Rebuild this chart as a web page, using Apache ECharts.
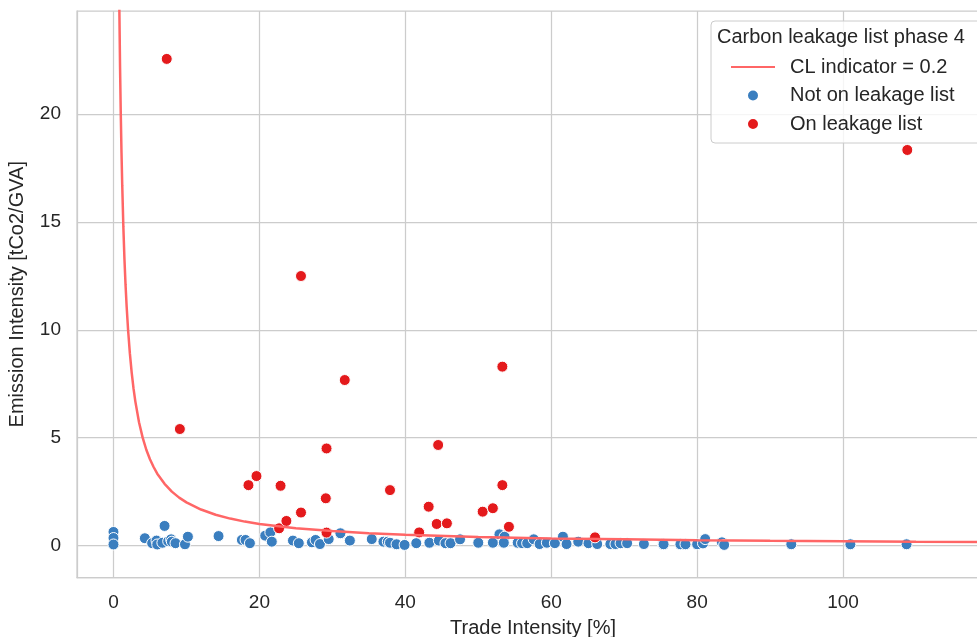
<!DOCTYPE html>
<html><head><meta charset="utf-8">
<script src="https://cdn.jsdelivr.net/npm/echarts@6/dist/echarts.min.js"></script>
<style>html,body{margin:0;padding:0;overflow:hidden;background:#fff}#c{width:995px;height:637px}</style>
</head><body><div id="c"></div>
<script>
// ---- data ----
const xTicks = [0, 20, 40, 60, 80, 100];
const yTicks = [0, 5, 10, 15, 20];

// CL indicator = 0.2 iso-line
const curveX = [0.6, 0.7, 0.8, 0.9, 1, 1.1, 1.2, 1.35, 1.5, 1.65, 1.8, 2, 2.25, 2.5, 2.75, 3, 3.5, 4, 4.5, 5, 5.5, 6, 7, 8, 9, 10, 12, 14, 16, 18, 20, 25, 30, 35, 40, 50, 60, 70, 80, 90, 100, 110, 120];
const curveY = [33.3, 28.6, 25, 22.2, 20, 18.2, 16.7, 14.8, 13.3, 12.1, 11.1, 10, 8.89, 8, 7.27, 6.67, 5.71, 5, 4.44, 4, 3.64, 3.33, 2.86, 2.5, 2.22, 2, 1.67, 1.43, 1.25, 1.11, 1, 0.8, 0.67, 0.57, 0.5, 0.4, 0.33, 0.29, 0.25, 0.22, 0.2, 0.18, 0.167];

// Not on leakage list
const notListX = [0, 0, 0, 4.3, 5.3, 5.9, 6.0, 6.7, 7.0, 7.5, 7.9, 8.0, 8.5, 9.8, 10.2,
  14.4, 17.6, 18.1, 18.7, 20.8, 21.5, 21.7,
  24.6, 25.4, 27.2, 27.7, 28.3, 29.5, 31.1, 32.4,
  35.4, 37.0, 37.6, 37.9, 38.8, 39.9, 41.5, 43.3, 44.6, 45.5, 46.2, 47.5,
  50.0, 52.0, 52.9, 53.6, 53.5, 55.4, 56.0, 56.7, 57.6, 58.4, 59.4, 60.5, 61.6, 62.1, 63.7, 65.1, 66.3,
  68.1, 68.8, 69.5, 70.4, 72.7, 75.3, 75.4, 77.7, 78.4, 80.0, 80.8, 81.1, 83.4, 83.7, 92.9, 101.0, 108.7];
const notListY = [0.63, 0.35, 0.05, 0.34, 0.11, 0.23, 0.05, 0.13, 0.91, 0.2, 0.29, 0.18, 0.11, 0.06, 0.41,
  0.44, 0.26, 0.26, 0.11, 0.46, 0.61, 0.18,
  0.23, 0.11, 0.15, 0.26, 0.07, 0.30, 0.57, 0.23,
  0.30, 0.18, 0.18, 0.13, 0.06, 0.03, 0.11, 0.13, 0.23, 0.11, 0.11, 0.29,
  0.13, 0.13, 0.52, 0.41, 0.13, 0.13, 0.11, 0.11, 0.29, 0.07, 0.13, 0.11, 0.41, 0.07, 0.18, 0.11, 0.07,
  0.07, 0.07, 0.11, 0.11, 0.07, 0.07, 0.06, 0.06, 0.06, 0.06, 0.10, 0.30, 0.15, 0.03, 0.06, 0.06, 0.06];

// On leakage list
const onListX = [7.3, 9.1, 18.5, 19.6, 22.9, 25.7, 31.7, 29.2, 29.1, 37.9, 44.5, 53.3, 53.3, 54.2, 108.8,
  22.7, 23.7, 25.7, 29.2, 41.9, 43.2, 44.3, 45.7, 50.6, 52.0, 66.0];
const onListY = [22.55, 5.40, 2.80, 3.22, 2.77, 12.49, 7.67, 4.50, 2.19, 2.57, 4.66, 8.29, 2.80, 0.87, 18.33,
  0.80, 1.14, 1.53, 0.60, 0.61, 1.80, 1.00, 1.03, 1.57, 1.73, 0.38];

const legendTitle = 'Carbon leakage list phase 4';
const names = ['CL indicator = 0.2', 'Not on leakage list', 'On leakage list'];

// ---- chart ----
const zip = (a, b) => a.map((v, i) => [v, b[i]]);
const FONT = '"Liberation Sans", Arial, sans-serif';
const TXT = '#262626';
const GRIDC = '#cccccc';

const chart = echarts.init(document.getElementById('c'), null, {renderer: 'canvas'});
chart.setOption({
  backgroundColor: '#ffffff',
  animation: false,
  textStyle: {fontFamily: FONT},
  grid: {left: 77, top: 11, right: 6, bottom: 59.5, show: true, borderColor: GRIDC, borderWidth: 1.25,
         containLabel: false, outerBoundsMode: 'none'},
  xAxis: {
    type: 'value', min: -5, max: 120,
    name: 'Trade Intensity [%]', nameLocation: 'middle', nameGap: 40.5,
    nameTextStyle: {fontSize: 20, color: TXT, fontFamily: FONT},
    axisLine: {show: true, onZero: false, lineStyle: {color: GRIDC, width: 1.25}},
    axisTick: {show: false, customValues: xTicks},
    axisLabel: {customValues: xTicks, fontSize: 19, color: TXT, margin: 15.5, fontFamily: FONT},
    splitLine: {show: true, lineStyle: {color: GRIDC, width: 1.25}}
  },
  yAxis: {
    type: 'value', min: -1.48, max: 24.77,
    name: 'Emission Intensity [tCo2/GVA]', nameLocation: 'middle', nameRotate: 90, nameGap: 50,
    nameTextStyle: {fontSize: 20, color: TXT, fontFamily: FONT},
    axisLine: {show: true, onZero: false, lineStyle: {color: GRIDC, width: 1.25}},
    axisTick: {show: false, customValues: yTicks},
    axisLabel: {customValues: yTicks, fontSize: 19, color: TXT, margin: 16, fontFamily: FONT},
    splitLine: {show: true, lineStyle: {color: GRIDC, width: 1.25}}
  },
  graphic: [
    {type: 'rect', z: 100, shape: {x: 711, y: 21, width: 272, height: 122, r: 4},
     style: {fill: 'rgba(255,255,255,0.8)', stroke: GRIDC, lineWidth: 1}},
    {type: 'text', z: 101, x: 717, y: 37,
     style: {text: legendTitle, fontSize: 20, fontFamily: FONT, fill: TXT, verticalAlign: 'middle', align: 'left'}}
  ],
  legend: {
    z: 102, orient: 'vertical', left: 730, top: 57, padding: 0,
    itemWidth: 44, itemHeight: 12, itemGap: 8.5,
    data: [{name: names[0], itemStyle: {opacity: 0}}, names[1], names[2]],
    textStyle: {fontSize: 20, color: TXT, fontFamily: FONT, lineHeight: 20, padding: [0, 0, 0, 10]}
  },
  series: [
    {name: names[0], type: 'line', data: zip(curveX, curveY), symbol: 'none', smooth: false,
     clip: true, z: 5, lineStyle: {color: '#ff6666', width: 2.5}, itemStyle: {color: '#ff6666'}},
    {name: names[1], type: 'scatter', data: zip(notListX, notListY), symbolSize: 11, z: 3,
     itemStyle: {color: '#3a7ebf', borderColor: '#ffffff', borderWidth: 1, opacity: 1}},
    {name: names[2], type: 'scatter', data: zip(onListX, onListY), symbolSize: 11, z: 4,
     itemStyle: {color: '#e41a1c', borderColor: '#ffffff', borderWidth: 1, opacity: 1}}
  ]
});
</script></body></html>
